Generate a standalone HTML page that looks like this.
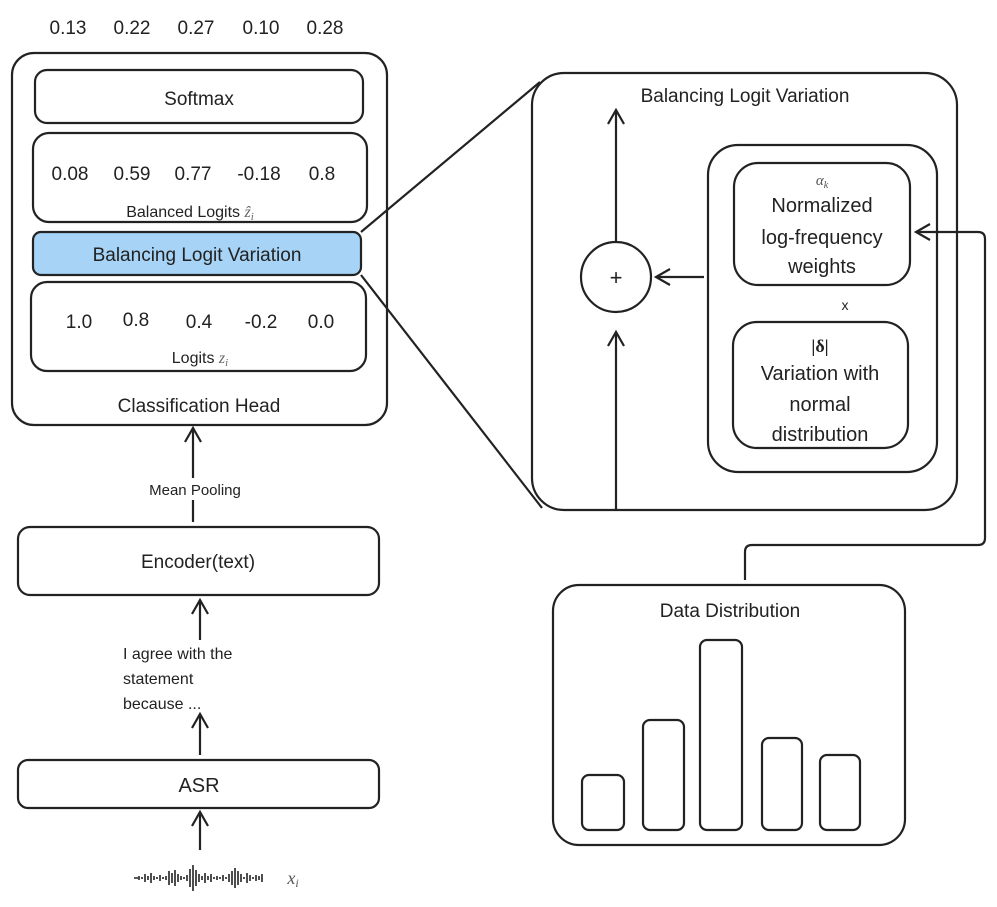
<!DOCTYPE html>
<html><head><meta charset="utf-8"><style>
html,body{margin:0;padding:0;background:#fff;}
svg{display:block;font-family:"Liberation Sans",sans-serif;}
</style></head><body>
<svg width="997" height="907" viewBox="0 0 997 907" xmlns="http://www.w3.org/2000/svg">
<defs>
<marker id="ah" markerWidth="20" markerHeight="20" refX="16" refY="10" orient="auto" markerUnits="userSpaceOnUse">
<path d="M2,2 L16,10 L2,18" fill="none" stroke="#222" stroke-width="2.2"/>
</marker>
</defs>
<g fill="#222" font-size="19" text-anchor="middle">
<text x="68" y="34">0.13</text><text x="132" y="34">0.22</text><text x="196" y="34">0.27</text><text x="261" y="34">0.10</text><text x="325" y="34">0.28</text>
</g>
<g fill="none" stroke="#222" stroke-width="2.2">
<rect x="12" y="53" width="375" height="372" rx="22"/>
<rect x="35" y="70" width="328" height="53" rx="12"/>
<rect x="33" y="133" width="334" height="89" rx="16"/>
<rect x="33" y="232" width="328" height="43" rx="8" fill="#a6d3f6"/>
<rect x="31" y="282" width="335" height="89" rx="16"/>
<rect x="18" y="527" width="361" height="68" rx="12"/>
<rect x="18" y="760" width="361" height="48" rx="10"/>
<line x1="193" y1="522" x2="193" y2="428" marker-end="url(#ah)"/>
<line x1="200" y1="640" x2="200" y2="600" marker-end="url(#ah)"/>
<line x1="200" y1="755" x2="200" y2="714" marker-end="url(#ah)"/>
<line x1="200" y1="850" x2="200" y2="812" marker-end="url(#ah)"/>
<line x1="361" y1="232" x2="540" y2="82"/>
<line x1="361" y1="275" x2="542" y2="508"/>
<rect x="532" y="73" width="425" height="437" rx="32"/>
<line x1="616" y1="510" x2="616" y2="332" marker-end="url(#ah)"/>
<line x1="616" y1="242" x2="616" y2="110" marker-end="url(#ah)"/>
<circle cx="616" cy="277" r="35"/>
<line x1="704" y1="277" x2="656" y2="277" marker-end="url(#ah)"/>
<rect x="708" y="145" width="229" height="327" rx="30"/>
<rect x="734" y="163" width="176" height="122" rx="24"/>
<rect x="733" y="322" width="175" height="126" rx="24"/>
<path d="M745,580 L745,552 Q745,545 752,545 L978,545 Q985,545 985,538 L985,239 Q985,232 978,232 L916,232" marker-end="url(#ah)"/>
<rect x="553" y="585" width="352" height="260" rx="26"/>
<rect x="582" y="775" width="42" height="55" rx="7"/>
<rect x="643" y="720" width="41" height="110" rx="7"/>
<rect x="700" y="640" width="42" height="190" rx="7"/>
<rect x="762" y="738" width="40" height="92" rx="7"/>
<rect x="820" y="755" width="40" height="75" rx="7"/>
</g>
<rect x="130" y="478" width="130" height="22" fill="#fff"/>
<g fill="#222" text-anchor="middle">
<text x="199" y="105" font-size="19">Softmax</text>
<g font-size="19"><text x="70" y="180">0.08</text><text x="132" y="180">0.59</text><text x="193" y="180">0.77</text><text x="259" y="180">-0.18</text><text x="322" y="180">0.8</text></g>
<text x="190" y="217" font-size="16">Balanced Logits <tspan font-family="Liberation Serif" font-style="italic" fill="#666">ẑ<tspan font-size="11" dy="3">i</tspan></tspan></text>
<text x="197" y="261" font-size="19">Balancing Logit Variation</text>
<g font-size="19"><text x="79" y="328">1.0</text><text x="136" y="326">0.8</text><text x="199" y="328">0.4</text><text x="261" y="328">-0.2</text><text x="321" y="328">0.0</text></g>
<text x="200" y="363" font-size="16">Logits <tspan font-family="Liberation Serif" font-style="italic" fill="#666">z<tspan font-size="11" dy="3">i</tspan></tspan></text>
<text x="199" y="412" font-size="19">Classification Head</text>
<text x="195" y="495" font-size="15">Mean Pooling</text>
<text x="198" y="568" font-size="19">Encoder(text)</text>
<g font-size="16" text-anchor="start"><text x="123" y="659">I agree with the</text><text x="123" y="684">statement</text><text x="123" y="709">because ...</text></g>
<text x="199" y="792" font-size="20">ASR</text>
<text x="293" y="884" font-size="18" font-family="Liberation Serif" font-style="italic" fill="#555">x<tspan font-size="12" dy="3">i</tspan></text>
<text x="745" y="102" font-size="19">Balancing Logit Variation</text>
<text x="616" y="285" font-size="22">+</text>
<text x="822" y="185" font-size="15" font-family="Liberation Serif" font-style="italic" fill="#555">α<tspan font-size="10" dy="3">k</tspan></text>
<g font-size="20"><text x="822" y="212">Normalized</text><text x="822" y="244">log-frequency</text><text x="822" y="273">weights</text></g>
<text x="845" y="310" font-size="14">x</text>
<text x="820" y="352" font-size="18" font-family="Liberation Serif" font-weight="bold">|δ|</text>
<g font-size="20"><text x="820" y="380">Variation with</text><text x="820" y="411">normal</text><text x="820" y="441">distribution</text></g>
<text x="730" y="617" font-size="19">Data Distribution</text>
</g>
<g stroke="#222" stroke-width="1.6">
<path d="M134,878h4M139,876v4M142,877v2M145,874v8M148,876v4M151,873v10M154,876v4M157,877v2M160,875v6M163,877v2M166,876v4M169,871v14M172,873v10M175,870v16M178,874v8M181,876v4M184,877v2M187,875v6M190,869v18M193,865v26M196,870v16M199,874v8M202,876v4M205,873v10M208,876v4M211,874v8M214,877v2M217,876v4M220,877v2M223,875v6M226,877v2M229,874v8M232,871v14M235,868v20M238,871v14M241,874v8M244,877v2M247,873v10M250,875v6M253,877v2M256,875v6M259,876v4M262,874v8"/>
</g>
</svg>
</body></html>
